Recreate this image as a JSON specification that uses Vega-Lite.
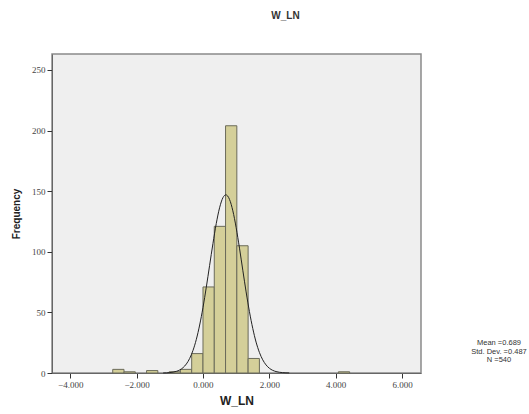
{
  "$schema": "https://vega.github.io/schema/vega-lite/v6.json",
  "width": 369,
  "height": 319,
  "autosize": {"type": "none"},
  "padding": {"left": 52, "top": 54, "right": 108, "bottom": 41},
  "background": "white",
  "title": {"text": "W_LN", "fontSize": 10, "font": "Liberation Sans", "fontWeight": "bold", "color": "#333", "anchor": "middle", "dx": 49, "offset": 33},
  "config": {
    "view": {"fill": "#efefef", "stroke": "#8a8a8a", "strokeWidth": 1.5},
    "axis": {"grid": false, "labelFont": "Liberation Serif", "labelFontSize": 9, "labelColor": "#444", "domainColor": "#666", "tickColor": "#333", "tickSize": 5, "titleFont": "Liberation Sans", "titleFontWeight": "bold", "titleColor": "#222"}
  },
  "datasets": {
    "bins": [
      {"bin_start": -2.72, "bin_end": -2.38, "count": 3},
      {"bin_start": -2.38, "bin_end": -2.04, "count": 1},
      {"bin_start": -1.70, "bin_end": -1.36, "count": 2},
      {"bin_start": -1.02, "bin_end": -0.68, "count": 1},
      {"bin_start": -0.68, "bin_end": -0.34, "count": 3},
      {"bin_start": -0.34, "bin_end": 0.0, "count": 16},
      {"bin_start": 0.0, "bin_end": 0.34, "count": 71},
      {"bin_start": 0.34, "bin_end": 0.68, "count": 121},
      {"bin_start": 0.68, "bin_end": 1.02, "count": 204},
      {"bin_start": 1.02, "bin_end": 1.36, "count": 105},
      {"bin_start": 1.36, "bin_end": 1.70, "count": 12},
      {"bin_start": 4.08, "bin_end": 4.42, "count": 1}
    ],
    "curve": [
      {"x": -1.2, "y": 0.04},
      {"x": -1.1, "y": 0.13},
      {"x": -1.0, "y": 0.36},
      {"x": -0.9, "y": 0.72},
      {"x": -0.8, "y": 1.37},
      {"x": -0.7, "y": 2.52},
      {"x": -0.6, "y": 4.43},
      {"x": -0.5, "y": 7.47},
      {"x": -0.4, "y": 12.07},
      {"x": -0.3, "y": 18.7},
      {"x": -0.2, "y": 27.8},
      {"x": -0.1, "y": 39.6},
      {"x": 0.0, "y": 54.0},
      {"x": 0.1, "y": 70.8},
      {"x": 0.2, "y": 88.8},
      {"x": 0.3, "y": 106.8},
      {"x": 0.4, "y": 123.3},
      {"x": 0.5, "y": 136.3},
      {"x": 0.6, "y": 144.6},
      {"x": 0.689, "y": 147.0},
      {"x": 0.8, "y": 143.2},
      {"x": 0.9, "y": 133.8},
      {"x": 1.0, "y": 119.9},
      {"x": 1.1, "y": 103.0},
      {"x": 1.2, "y": 84.8},
      {"x": 1.3, "y": 66.9},
      {"x": 1.4, "y": 50.6},
      {"x": 1.5, "y": 36.8},
      {"x": 1.6, "y": 25.5},
      {"x": 1.7, "y": 17.0},
      {"x": 1.8, "y": 10.9},
      {"x": 1.9, "y": 6.67},
      {"x": 2.0, "y": 3.93},
      {"x": 2.1, "y": 2.21},
      {"x": 2.2, "y": 1.19},
      {"x": 2.3, "y": 0.62},
      {"x": 2.4, "y": 0.31},
      {"x": 2.5, "y": 0.15},
      {"x": 2.6, "y": 0.07}
    ]
  },
  "layer": [
    {
      "data": {"name": "bins"},
      "mark": {"type": "rect", "fill": "#d4cf99", "stroke": "#6b6b5a", "strokeWidth": 1},
      "encoding": {
        "x": {"field": "bin_start", "type": "quantitative", "scale": {"domain": [-4.55, 6.57], "nice": false, "zero": false},
              "axis": {"title": "W_LN", "titleFontSize": 12, "titlePadding": 6, "values": [-4, -2, 0, 2, 4, 6], "format": ".3f", "domain": true}},
        "x2": {"field": "bin_end"},
        "y": {"field": "count", "type": "quantitative", "scale": {"domain": [0, 263.2], "nice": false},
              "axis": {"title": "Frequency", "titleFontSize": 10, "titlePadding": 10, "values": [0, 50, 100, 150, 200, 250]}},
        "y2": {"datum": 0}
      }
    },
    {
      "data": {"name": "curve"},
      "mark": {"type": "line", "color": "#222", "strokeWidth": 1, "interpolate": "monotone"},
      "encoding": {
        "x": {"field": "x", "type": "quantitative"},
        "y": {"field": "y", "type": "quantitative"}
      }
    },
    {
      "data": {"values": [{}]},
      "mark": {"type": "text", "clip": false, "align": "center", "baseline": "middle", "font": "Liberation Sans", "fontSize": 7.5, "color": "#333", "lineHeight": 8.5},
      "encoding": {
        "x": {"datum": 8.92},
        "y": {"datum": 24.5},
        "text": {"value": ["Mean =0.689", "Std. Dev. =0.487", "N =540"]}
      }
    }
  ]
}
